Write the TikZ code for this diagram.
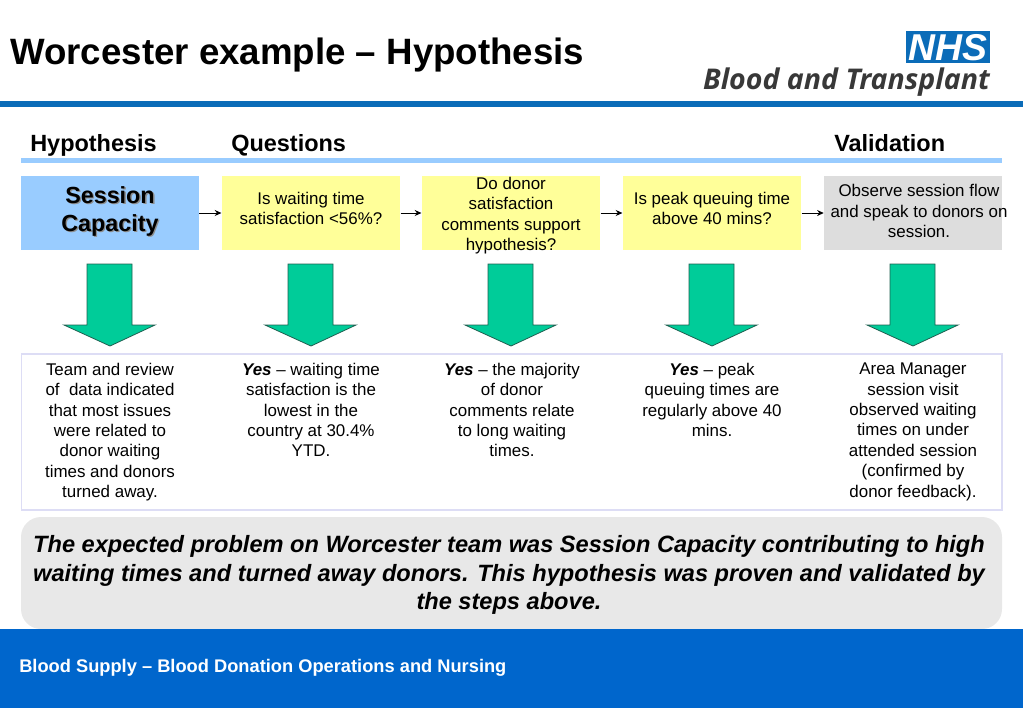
\documentclass[tikz,border=0pt]{standalone}
\usepackage{fontspec}
\setmainfont{Liberation Sans}
\newfontfamily\logofont{Open Sans}
\usetikzlibrary{arrows.meta}
\definecolor{nhsblue}{HTML}{0066CC}
\definecolor{barblue}{HTML}{0B6CB8}
\definecolor{lineblue}{HTML}{99CCFF}
\definecolor{hypblue}{HTML}{99CCFF}
\definecolor{qyellow}{HTML}{FFFF99}
\definecolor{vgrey}{HTML}{DDDDDD}
\definecolor{sumgrey}{HTML}{E8E8E8}
\definecolor{arrowgreen}{HTML}{00CC99}
\definecolor{arrowedge}{HTML}{1F5F50}
\definecolor{panel}{HTML}{DDDDF5}
\newcommand{\bodyfs}{\fontsize{12.7}{15.3}\selectfont}
\tikzset{
 x=0.75pt,y=-0.75pt,
 boxbase/.style={minimum height=55.5pt,inner sep=0pt,align=center,font=\bodyfs},
 hypbox/.style={boxbase,fill=hypblue,minimum width=133.5pt},
 qbox/.style={boxbase,fill=qyellow,minimum width=134pt},
 vbox/.style={boxbase,fill=vgrey,minimum width=133.5pt},
 link/.style={draw=black,line width=0.7pt,-{Stealth[length=5pt,width=4.5pt]}},
 colhead/.style={anchor=base west,inner sep=0pt,font=\fontsize{17.6}{20}\selectfont\bfseries},
 bodytext/.style={anchor=north,inner sep=0pt,align=center,font=\bodyfs},
 boxtext/.style={inner sep=0pt,align=center,font=\bodyfs},
 downarrow/.style={fill=arrowgreen,draw=arrowedge,line width=0.6pt,line join=miter}
}
\newcommand{\greenarrow}[1]{\draw[downarrow] (#1-23,264) -- (#1+22,264) -- (#1+22,325) -- (#1+45,325) -- (#1,346) -- (#1-46,325) -- (#1-23,325) -- cycle;}
\begin{document}
\begin{tikzpicture}
\useasboundingbox (0,0) rectangle (1023,708);
% title and logo
\node[anchor=base west,inner sep=0pt,font=\fontsize{27.5}{30}\selectfont\bfseries] (title) at (10,64) {Worcester example – Hypothesis};
\fill[barblue] (906,31) rectangle (990,63);
\node[font=\fontsize{28}{30}\selectfont\bfseries\itshape,text=white,inner sep=0pt] (nhs) at (948,47.5) {NHS};
\node[anchor=base east,inner sep=0pt,font=\logofont\fontsize{21.4}{24}\selectfont\bfseries\itshape,text=black!78] (bt) at (990,89) {Blood and Transplant};
\fill[barblue] (0,101) rectangle (1023,107);
% headings
\node[colhead] (h1) at (30,151) {Hypothesis};
\node[colhead] (h2) at (231,151) {Questions};
\node[colhead] (h3) at (834,151) {Validation};
\fill[lineblue] (21,158) rectangle (1002,163);
% top boxes
\node[hypbox] (a) at (110,213) {};
\node[font=\fontsize{17.5}{21}\selectfont\bfseries,align=center,text=black!45,inner sep=0pt] at (111.3,212.3) {Session\\Capacity};
\node[font=\fontsize{17.5}{21}\selectfont\bfseries,align=center,inner sep=0pt] (at) at (110,211) {Session\\Capacity};
\node[qbox] (b) at (311,213) {};
\node[qbox] (c) at (511,213) {};
\node[qbox] (d) at (712,213) {};
\node[vbox] (e) at (913,213) {};
\node[boxtext] (bt1) at (311,208.5) {Is waiting time\\satisfaction <56\%?};
\node[boxtext] (ct1) at (511,215.5) {Do donor\\satisfaction\\comments support\\hypothesis?};
\node[boxtext] (dt1) at (712,208.5) {Is peak queuing time\\above 40 mins?};
\node[boxtext] (et) at (919,211) {Observe session flow\\and speak to donors on\\session.};
\draw[link] (a) -- (b);
\draw[link] (b) -- (c);
\draw[link] (c) -- (d);
\draw[link] (d) -- (e);
% green arrows
\greenarrow{110}
\greenarrow{311}
\greenarrow{511}
\greenarrow{712}
\greenarrow{913}
% results panel
\node[draw=panel,line width=1pt,fill=white,minimum width=735.5pt,minimum height=117pt,inner sep=0pt] (panelbox) at (511.5,432) {};
\node[bodytext] (r1) at (110,362.7) {Team and review\\of\ \ data indicated\\that most issues\\were related to\\donor waiting\\times and donors\\turned away.};
\node[bodytext] (r2) at (311,362.7) {\textbf{\textit{Yes}} – waiting time\\satisfaction is the\\lowest in the\\country at 30.4\%\\YTD.};
\node[bodytext] (r3) at (512,362.7) {\textbf{\textit{Yes}} – the majority\\of donor\\comments relate\\to long waiting\\times.};
\node[bodytext] (r4) at (712,362.7) {\textbf{\textit{Yes}} – peak\\queuing times are\\regularly above 40\\mins.};
\node[bodytext] (r5) at (913,362.7) {Area Manager\\session visit\\observed waiting\\times on under\\attended session\\(confirmed by\\donor feedback).};
% summary
\fill[sumgrey,rounded corners=15pt] (21,517) rectangle (1002,629);
\node[inner sep=0pt,align=center,font=\fontsize{17.7}{21.2}\selectfont\bfseries\itshape] (sum) at (509,575) {The expected problem on Worcester team was Session Capacity contributing to high\\waiting times and turned away donors. This hypothesis was proven and validated by\\the steps above.};
% footer
\fill[nhsblue] (0,629) rectangle (1023,708);
\node[anchor=base west,inner sep=0pt,text=white,font=\fontsize{13.7}{15}\selectfont\bfseries] (foot) at (19,672) {Blood Supply – Blood Donation Operations and Nursing};
\end{tikzpicture}
\end{document}
